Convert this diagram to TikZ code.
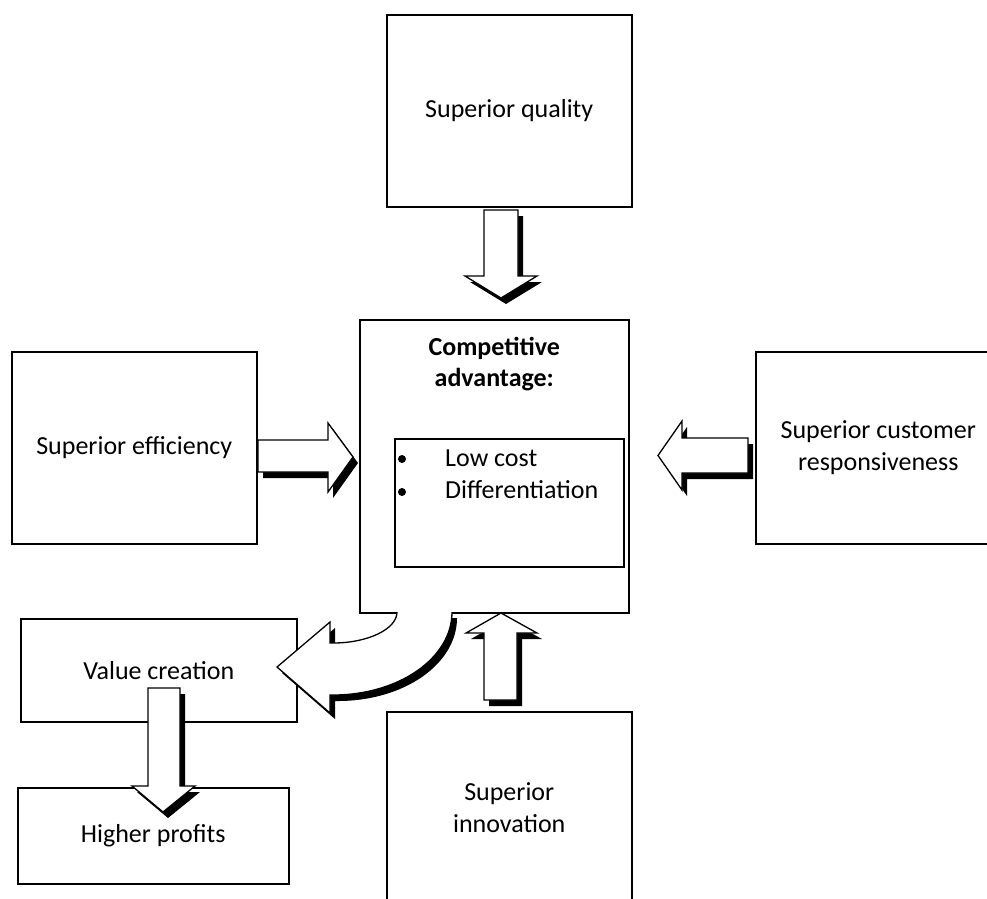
\documentclass[tikz,border=0pt]{standalone}
\usepackage{fontspec}
\setmainfont{Carlito}
\begin{document}
\begin{tikzpicture}[x=1pt,y=-1pt,
  box/.style={draw,line width=1.5pt,rectangle,inner sep=0pt,align=center,fill=white,
    font=\fontsize{26}{31.7}\selectfont},
  outerbox/.style={box,minimum width=245pt,minimum height=192pt,anchor=north west},
  lbl/.style={inner sep=0pt,font=\fontsize{26}{31.7}\selectfont},
  barrow/.style={draw,fill=white,line width=1.3pt,line join=miter},
  shade/.style={fill=black,shift={(5,6)}}]
\useasboundingbox (0,0) rectangle (987,898);
\clip (0,0) rectangle (987,898);
\fill[white] (0,0) rectangle (987,898);

% boxes
\node[outerbox] (quality) at (386,14) {Superior quality};
\node[outerbox] (efficiency) at (11,351) {Superior efficiency};
\node[outerbox] (customer) at (755,351) {Superior customer\\responsiveness};
\node[outerbox] (innovation) at (386,711) {Superior\\innovation};
\node[box,anchor=north west,minimum width=269pt,minimum height=293pt] (central) at (359,319) {};
\node[box,anchor=north west,minimum width=229pt,minimum height=128pt] (inner) at (394,438) {};
\node[box,anchor=north west,minimum width=276pt,minimum height=103pt] (value) at (20,618) {Value creation};
\node[box,anchor=north west,minimum width=271pt,minimum height=96pt] (profits) at (17,787) {Higher profits};

% central texts
\node[lbl,anchor=base,font=\fontsize{26}{31.7}\selectfont\bfseries] (title1) at (central.north |- 0,355) {Competitive};
\node[lbl,anchor=base,font=\fontsize{26}{31.7}\selectfont\bfseries] (title2) at (central.north |- 0,386) {advantage:};
\fill (402,459) circle (4);
\fill (402,492) circle (4);
\node[lbl,anchor=base west] (lowcost) at (445,466) {Low cost};
\node[lbl,anchor=base west] (diff) at (445,498) {Differentiation};

% block arrows: quality -> central
\def\qa{(484,210) -- (518,210) -- (518,276) -- (537,276) -- (501,298) -- (465,276) -- (484,276) -- cycle}
\fill[shade] \qa;
\draw[barrow] \qa;
% efficiency -> central
\def\ea{(258,440) -- (328,440) -- (328,423) -- (353,457) -- (328,492) -- (328,472) -- (258,472) -- cycle}
\fill[shade] \ea;
\draw[barrow] \ea;
% customer -> central
\def\ca{(748,438) -- (682,438) -- (682,421) -- (658,455.5) -- (682,490) -- (682,473) -- (748,473) -- cycle}
\fill[shade] \ca;
\draw[barrow] \ca;
% innovation -> central
\def\ia{(484,700) -- (517,700) -- (517,633) -- (537,633) -- (501,613) -- (466,633) -- (484,633) -- cycle}
\fill[shade] \ia;
\draw[barrow] \ia;
% value -> profits
\def\pa{(148,688) -- (180,688) -- (180,786) -- (195,786) -- (163,812) -- (132,786) -- (148,786) -- cycle}
\fill[shade] \pa;
\draw[barrow] \pa;
% central -> value (curved)
\def\va{(452,612) .. controls (452,658) and (399,695) .. (333,695) -- (330,695) -- (330,713) -- (277,667) -- (330,622) -- (330,643) -- (333,643) .. controls (368,643) and (397,629) .. (397,612)}
\fill[shade] \va -- cycle;
\fill[white] \va -- cycle;
\draw[line width=1.3pt,line join=miter] \va;
\end{tikzpicture}
\end{document}
